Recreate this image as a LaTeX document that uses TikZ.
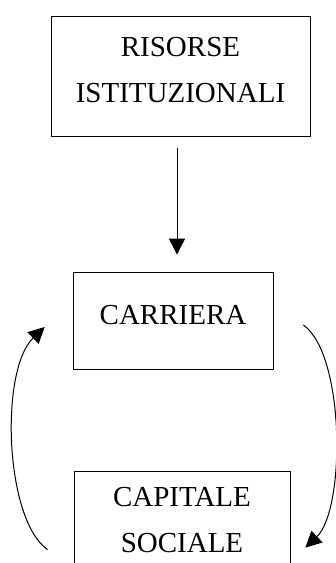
\documentclass[tikz,border=0pt]{standalone}
\usepackage{fontspec}
\setmainfont{Liberation Serif}
\usetikzlibrary{arrows.meta}

\tikzset{
  boxnode/.style={draw, line width=0.8pt, align=center, inner sep=0pt, anchor=base,
                  font=\fontsize{29}{46}\selectfont},
  flow/.style={-{Triangle[length=16pt, width=16pt]}, line width=1pt},
}

\begin{document}
\begin{tikzpicture}[x=1pt, y=1pt]
            \useasboundingbox (0,0) rectangle (336,-563);
            \node[boxnode, minimum width=259pt, text height=86pt, text depth=34pt] (risorse) at (180.5, -102) {RISORSE\\ISTITUZIONALI};
            \node[boxnode, minimum width=200pt, text height=52pt, text depth=45pt] (carriera) at (173, -324) {CARRIERA};
            \node[boxnode, minimum width=216pt, text height=81pt, text depth=48pt] (capitale) at (182, -552) {CAPITALE\\SOCIALE};
            \draw[flow] ([xshift=-3.5pt, yshift=-12pt]risorse.south) -- ([xshift=4pt, yshift=17pt]carriera.north);
            \draw[flow] ([xshift=30pt, yshift=-4.5pt]carriera.east) .. controls +(42,-30) and +(40,38) .. ([xshift=15pt, yshift=-77pt]capitale.north east);
            \draw[flow] ([xshift=-26pt, yshift=-79pt]capitale.north west) .. controls +(-43,30) and +(-45,-43) .. ([xshift=-28pt, yshift=-6.5pt]carriera.west);
        \end{tikzpicture}
\end{document}
